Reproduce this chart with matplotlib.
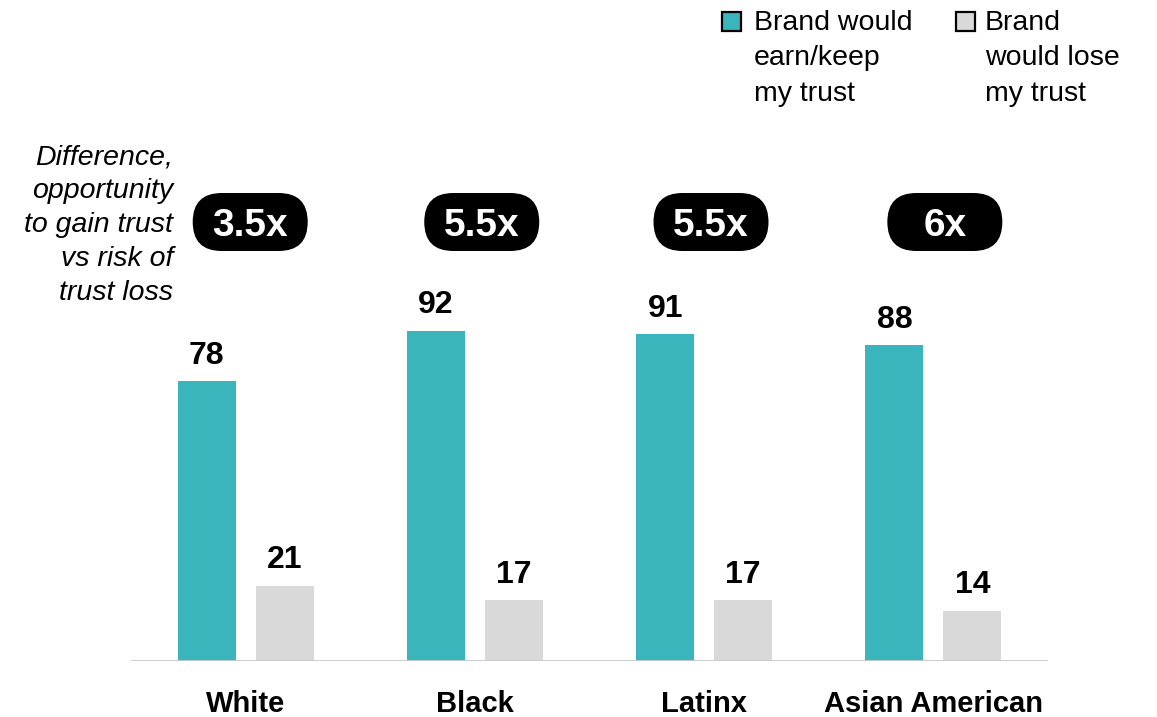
import matplotlib
matplotlib.use('Agg')
import matplotlib.pyplot as plt
from matplotlib.patches import FancyBboxPatch, Rectangle
from matplotlib.transforms import ScaledTranslation

plt.rcParams['font.family'] = ['Liberation Sans', 'DejaVu Sans']

# data
groups = ['White', 'Black', 'Latinx', 'Asian American']
earn_trust = [78, 92, 91, 88]
lose_trust = [21, 17, 17, 14]
multiples = ['3.5x', '5.5x', '5.5x', '6x']

TEAL = '#3BB5BC'
GREY = '#D9D9D9'

W, H = 1157, 717
fig = plt.figure(figsize=(W / 100, H / 100), dpi=100)

# axes: baseline at y=661px, x from 131 to 1048 px
base_px = 661
px_per_unit = 3.59
ax = fig.add_axes([131 / W, (H - base_px) / H, 917 / W, base_px / H])
ax.set_xlim(-0.5, 3.5)
ax.set_ylim(0, base_px / px_per_unit)
ax.axis('off')

off = 0.17
bw = 0.253
xs = list(range(len(groups)))
ax.bar([x - off for x in xs], earn_trust, width=bw, color=TEAL, zorder=2)
ax.bar([x + off for x in xs], lose_trust, width=bw, color=GREY, zorder=2)
ax.axhline(0, color='#C6CACB', lw=1.3, zorder=3)

for x, a, b in zip(xs, earn_trust, lose_trust):
    for xx, v in ((x - off, a), (x + off, b)):
        ax.annotate(str(v), (xx, v), xytext=(0, 12.5), textcoords='offset points',
                    ha='center', va='baseline', fontsize=23, fontweight='bold')
    ax.annotate(groups[x], (x, 0), xytext=(0, -36.5), textcoords='offset points',
                ha='center', va='baseline', fontsize=21, fontweight='bold')

# pills with the multiple
pill_x = [0.02, 1.03, 2.03, 3.05]
pill_y = (base_px - 222) / px_per_unit
for px_, m in zip(pill_x, multiples):
    tr = fig.dpi_scale_trans + ScaledTranslation(px_, pill_y, ax.transData)
    ax.add_patch(FancyBboxPatch((-0.575, -0.29), 1.15, 0.58,
                                boxstyle='round,pad=0,rounding_size=0.29',
                                transform=tr, facecolor='black', edgecolor='none',
                                clip_on=False, zorder=4))
    ax.annotate(m, (px_, pill_y), xytext=(0, -10), textcoords='offset points',
                ha='center', va='baseline', color='white', fontsize=28,
                fontweight='bold', zorder=5)

# left note
fig.text(173 / W, 1 - 144 / H,
         'Difference,\nopportunity\nto gain trust\nvs risk of\ntrust loss',
         ha='right', va='top', fontsize=20.5, style='italic', linespacing=1.40)

# legend
for sx, tx, col, lbl in ((722, 754, TEAL, 'Brand would\nearn/keep\nmy trust'),
                         (956, 985, GREY, 'Brand\nwould lose\nmy trust')):
    fig.patches.append(Rectangle((sx / W, 1 - 31 / H), 19 / W, 19 / H,
                                 transform=fig.transFigure, facecolor=col,
                                 edgecolor='black', lw=1.6))
    fig.text(tx / W, 1 - 10 / H, lbl, ha='left', va='top', fontsize=20.5,
             linespacing=1.47)

fig.savefig('out.png', dpi=100)
